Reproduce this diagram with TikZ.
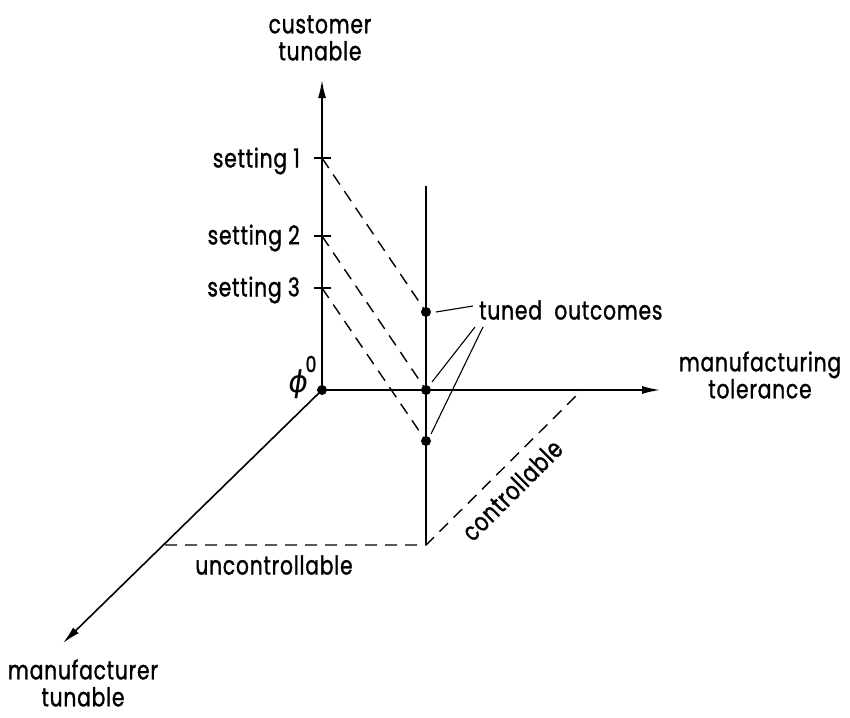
\documentclass[tikz,border=0pt]{standalone}
\usepackage{fontspec}
\setmainfont{Poppins}[FakeStretch=0.78,LetterSpace=3,FakeBold=1.2]
\newfontfamily\grkfont{DejaVu Sans}[FakeSlant=0.15]
\usetikzlibrary{arrows.meta}
\begin{document}
\begin{tikzpicture}[x=1pt,y=-1pt,
  axis/.style={line width=1.6pt,-{Latex[length=18pt,width=8pt]}},
  plain/.style={line width=1.6pt},
  guide/.style={line width=1.4pt,dash pattern=on 12pt off 8pt},
  leader/.style={line width=1.1pt},
  dot/.style={circle,fill,inner sep=0pt,minimum size=10pt},
  lbl/.style={font=\fontsize{26}{27}\selectfont,inner sep=0pt,align=center}]
\useasboundingbox (0,0) rectangle (850,717);

% origin and axis ends
\node[dot] (o) at (322,390) {};
\coordinate (ytip) at (322,80);
\coordinate (xtip) at (660,390);
\coordinate (ztip) at (63,643);
\draw[axis] (o.center) -- (ytip);
\draw[axis] (o.center) -- (xtip);
\draw[axis] (o.center) -- (ztip);

% vertical line of outcomes
\coordinate (vtop) at (426,186);
\coordinate (vbot) at (426,545);
\draw[plain] (vtop) -- (vbot);
\node[dot] (t1) at (426,312) {};
\node[dot] (t2) at (426,390) {};
\node[dot] (t3) at (426,441) {};

% setting ticks on the vertical axis
\foreach \n/\y in {s1/158,s2/236,s3/288}{
  \coordinate (\n) at (322,\y);
  \coordinate (\n l) at (314,\y);
  \coordinate (\n r) at (331,\y);
  \draw[line width=1.3pt] (\n l) -- (\n r);
}
\draw[guide] (s1) -- (t1.center);
\draw[guide] (s2) -- (t2.center);
\draw[guide] (s3) -- (t3.center);

% base of the uncontrollable / controllable region
\coordinate (zb) at (165,545);
\coordinate (xb) at (582,390);
\draw[guide] (zb) -- (vbot) -- (xb);

% labels
\node[lbl] (cust) at (320,38) {customer\\tunable};
\node[lbl,anchor=east] (set1) at (300,161) {setting 1};
\node[lbl,anchor=east] (set2) at (300,238) {setting 2};
\node[lbl,anchor=east] (set3) at (300,290) {setting 3};
\node[inner sep=0pt,font=\grkfont\fontsize{30}{30}\selectfont] (phi) at (297,384) {ϕ};
\node[inner sep=0pt,font=\fontsize{22}{22}\selectfont] (sup0) at (311,364) {0};
\node[lbl] (mtol) at (760,375) {manufacturing\\tolerance};
\node[lbl] (mtun) at (83,683) {manufacturer\\tunable};
\node[lbl] (unc) at (274,565) {uncontrollable};
\node[lbl,rotate=45] (con) at (512,490) {controllable};
\node[lbl,anchor=west] (tuned) at (479,310) {tuned\ \ outcomes};

% leaders from the label to the outcomes
\coordinate (la) at (473,306);
\coordinate (lb) at (475,327);
\coordinate (lc) at (483,327);
\coordinate (da) at (436,312);
\coordinate (db) at (432,382);
\coordinate (dc) at (431,434);
\draw[leader] (la) -- (da);
\draw[leader] (lb) -- (db);
\draw[leader] (lc) -- (dc);
\end{tikzpicture}
\end{document}
